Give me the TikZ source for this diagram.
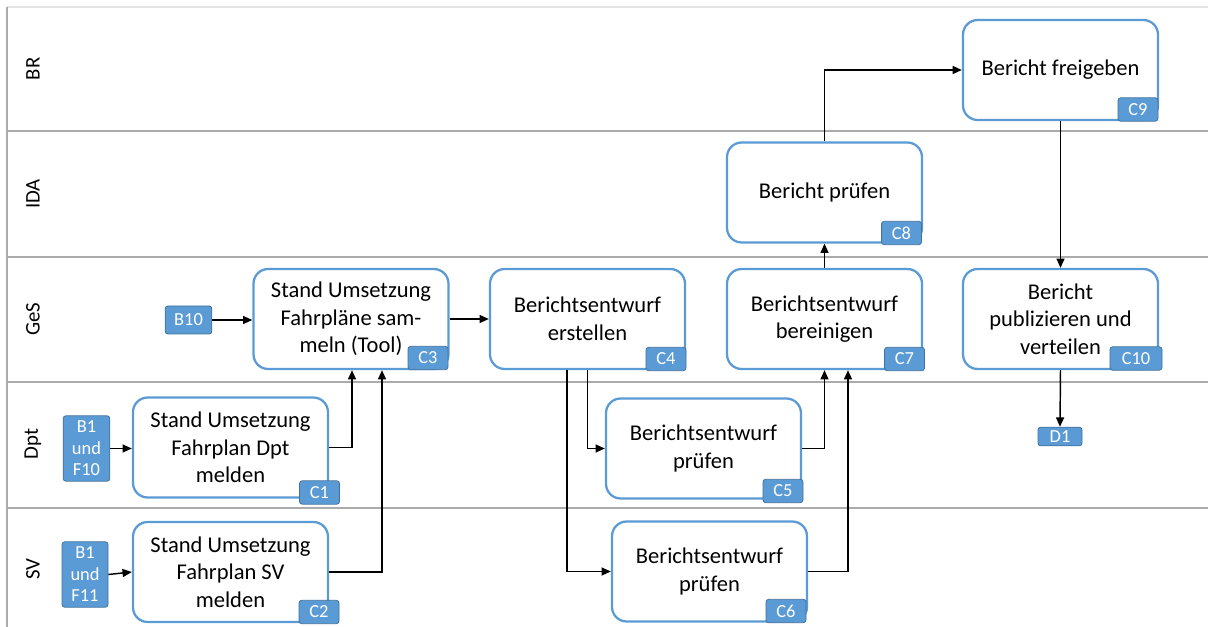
\documentclass[tikz,border=0pt]{standalone}
\usepackage{fontspec}
\setmainfont{Carlito}
\usetikzlibrary{calc,arrows.meta}
\definecolor{boxblue}{HTML}{5B9BD5}
\definecolor{badgeedge}{HTML}{41719C}
\definecolor{lanegray}{HTML}{ABABAB}
\definecolor{lightgray}{HTML}{E3E3E3}
\tikzset{
  task/.style={draw=boxblue, line width=1.7pt, rounded corners=11pt, fill=white,
    minimum width=146.25pt, minimum height=75pt, align=center, inner sep=0pt,
    font=\fontsize{16.9}{20.8}\selectfont},
  badge/.style={draw=badgeedge, line width=0.6pt, fill=boxblue, rounded corners=2pt,
    text=white, align=center, inner sep=0pt, minimum width=30pt, minimum height=17.5pt,
    font=\fontsize{13.8}{16}\selectfont},
  lane/.style={draw=lanegray, line width=1.4pt},
  lanelabel/.style={rotate=90, font=\fontsize{15.6}{18}\selectfont, inner sep=0pt},
  arr/.style={draw=black, line width=1.1pt, -{Triangle[length=7pt,width=6pt]}}
}
\begin{document}
\begin{tikzpicture}[x=0.75pt,y=-0.75pt]
\useasboundingbox (0,0) rectangle (1208,627);
% lanes
\draw[draw=lightgray, line width=1pt] (7,7) -- (1208,7);
\draw[draw=lanegray, line width=1pt] (7,7) -- (7,627);
\foreach \yy in {131,257,382,508} {\draw[lane] (7,\yy) -- (1208,\yy);}
\node[lanelabel] (lbr) at (33,69) {BR};
\node[lanelabel] (lida) at (33,194) {IDA};
\node[lanelabel] (lges) at (33,319) {GeS};
\node[lanelabel] (ldpt) at (33,444) {Dpt};
\node[lanelabel] (lsv) at (33,569) {SV};
% tasks
\node[task] (c9) at (1060.5,70) {Bericht freigeben};
\node[task] (c8) at (824.5,192.5) {Bericht prüfen};
\node[task] (c3) at (351,319) {Stand Umsetzung\\Fahrpläne sam-\\meln (Tool)};
\node[task] (c4) at (587.5,319) {Berichtsentwurf\\erstellen};
\node[task] (c7) at (824.5,319) {Berichtsentwurf\\bereinigen};
\node[task] (c10) at (1060.5,319) {Bericht\\publizieren und\\verteilen};
\node[task] (c1) at (230.5,447.5) {Stand Umsetzung\\Fahrplan Dpt\\melden};
\node[task] (c5) at (703.5,448.5) {Berichtsentwurf\\prüfen};
\node[task] (c2) at (230.5,572) {Stand Umsetzung\\Fahrplan SV\\melden};
\node[task] (c6) at (709.5,571.5) {Berichtsentwurf\\prüfen};
% badges
\node[badge] (bc1) at (319.5,492.5) {C1};
\node[badge] (bc2) at (319,612) {C2};
\node[badge] (bc3) at (428,358) {C3};
\node[badge] (bc4) at (666,359) {C4};
\node[badge] (bc5) at (783,491) {C5};
\node[badge] (bc6) at (786,611) {C6};
\node[badge] (bc7) at (904.5,359) {C7};
\node[badge] (bc8) at (901.5,233) {C8};
\node[badge] (bc9) at (1138,109.5) {C9};
\node[badge, minimum width=39pt] (bc10) at (1136,358.5) {C10};
\node[badge, minimum width=33pt, minimum height=14pt] (d1) at (1060,436.5) {D1};
\node[badge, minimum width=35pt, minimum height=21pt] (b10) at (188.5,320) {B10};
\node[badge, minimum width=35pt, minimum height=49pt, font=\fontsize{13.8}{16.1}\selectfont] (bf10) at (86.5,448.5) {B1\\und\\F10};
\node[badge, minimum width=34.5pt, minimum height=49pt, font=\fontsize{13.8}{16.1}\selectfont] (bf11) at (85,574.5) {B1\\und\\F11};
% connectors
\draw[arr] (b10.east) -- (b10.east -| c3.west);
\draw[arr] (bf10.east) -- (bf10.east -| c1.west);
\draw[arr] (bf11.east) -- (c2.west);
\draw[arr] (c1.east) -| ($(c3.south)+(1,0)$);
\draw[arr] (c2.east) -| ($(c3.south)+(31,0)$);
\draw[arr] (c3.east) -- (c4.west);
\draw[arr] (c4.south) |- (c5.west);
\draw[arr] ($(c4.south)+(-20.5,0)$) |- (c6.west);
\draw[arr] (c5.east) -| (c7.south);
\draw[arr] (c6.east) -| ($(c7.south)+(23.5,0)$);
\draw[arr] (c7.north) -- (c8.south);
\draw[arr] (c8.north) |- (c9.west);
\draw[arr] (c9.south) -- (c10.north);
\draw[arr] (c10.south) -- (d1.north);
\end{tikzpicture}
\end{document}
